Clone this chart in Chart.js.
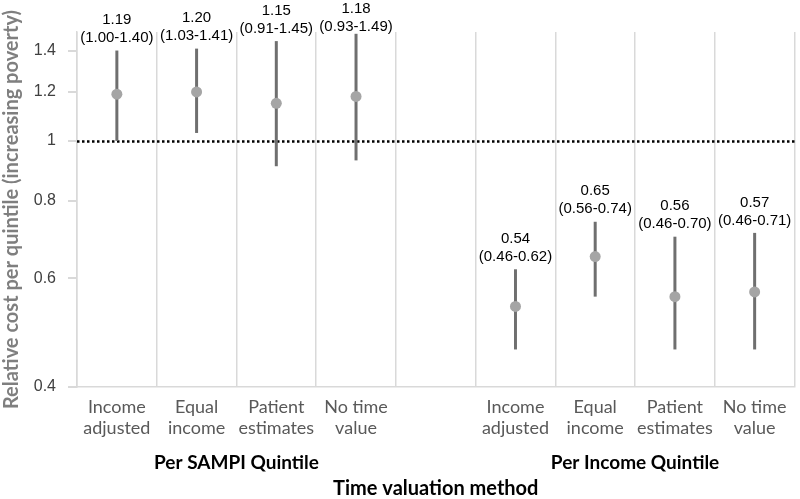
<!DOCTYPE html>
<html>
<head>
<meta charset="utf-8">
<script src="https://cdn.jsdelivr.net/npm/chart.js@4/dist/chart.umd.min.js"></script>
<style>
  html, body { margin: 0; padding: 0; background: #fff; }
  #wrap { width: 800px; height: 499px; }
</style>
</head>
<body>
<div id="wrap"><canvas id="chart" width="800" height="499"></canvas></div>
<script>
// categories (blank slot between the two groups)
const categories = [
    ['Income', 'adjusted'], ['Equal', 'income'], ['Patient', 'estimates'], ['No time', 'value'],
    '',
    ['Income', 'adjusted'], ['Equal', 'income'], ['Patient', 'estimates'], ['No time', 'value']
];
const estimates = [1.19, 1.20, 1.15, 1.18, null, 0.54, 0.65, 0.56, 0.57];
const lowerCI = [1.00, 1.03, 0.91, 0.93, null, 0.46, 0.56, 0.46, 0.46];
const upperCI = [1.40, 1.41, 1.45, 1.49, null, 0.62, 0.74, 0.70, 0.71];
const yTicks = [0.4, 0.6, 0.8, 1, 1.2, 1.4];
const groupLabels = ['Per SAMPI Quintile', 'Per Income Quintile'];
const groupRanges = [[0, 3], [5, 8]];
const refValue = 1;

// error bars + reference line, drawn under the points
const errorBarPlugin = {
    id: 'errorBars',
    beforeDatasetsDraw(chart) {
        const ctx = chart.ctx;
        const x = chart.scales.x;
        const y = chart.scales.y;
        const area = chart.chartArea;
        ctx.save();
        // dotted line at 1
        const ry = Math.round(y.getPixelForValue(refValue)) + 0.5;
        ctx.strokeStyle = '#000';
        ctx.lineWidth = 2.5;
        ctx.setLineDash([2.5, 2.5]);
        ctx.beginPath();
        ctx.moveTo(area.left, ry);
        ctx.lineTo(area.right, ry);
        ctx.stroke();
        ctx.setLineDash([]);
        // whiskers
        ctx.strokeStyle = '#6f6f6f';
        ctx.lineWidth = 3;
        for (let i = 0; i < estimates.length; i++) {
            if (estimates[i] === null) continue;
            const px = x.getPixelForValue(i);
            ctx.beginPath();
            ctx.moveTo(px, y.getPixelForValue(lowerCI[i]));
            ctx.lineTo(px, y.getPixelForValue(upperCI[i]));
            ctx.stroke();
        }
        ctx.restore();
    },
    afterDatasetsDraw(chart) {
        const ctx = chart.ctx;
        const x = chart.scales.x;
        const y = chart.scales.y;
        ctx.save();
        ctx.fillStyle = '#000';
        ctx.font = '15px "Liberation Sans", Arial, sans-serif';
        ctx.textAlign = 'center';
        ctx.textBaseline = 'bottom';
        for (let i = 0; i < estimates.length; i++) {
            if (estimates[i] === null) continue;
            const px = x.getPixelForValue(i);
            const top = y.getPixelForValue(upperCI[i]);
            // keep the label block inside the canvas (like Excel does)
            const rangeBottom = Math.max(top - 5, 34);
            ctx.fillText('(' + lowerCI[i].toFixed(2) + '-' + upperCI[i].toFixed(2) + ')', px, rangeBottom);
            ctx.fillText(estimates[i].toFixed(2), px, rangeBottom - 18);
        }
        ctx.restore();
    },
    afterDraw(chart) {
        const ctx = chart.ctx;
        const x = chart.scales.x;
        const area = chart.chartArea;
        ctx.save();
        ctx.fillStyle = '#000';
        ctx.textAlign = 'center';
        ctx.textBaseline = 'middle';
        ctx.font = 'bold 19px Lato, "Open Sans", sans-serif';
        groupRanges.forEach((r, k) => {
            const cx = (x.getPixelForValue(r[0]) + x.getPixelForValue(r[1])) / 2;
            ctx.fillText(groupLabels[k], cx, 463);
        });
        ctx.font = 'bold 20px Lato, "Open Sans", sans-serif';
        ctx.fillText('Time valuation method', (area.left + area.right) / 2, 489);
        ctx.restore();
    }
};

document.addEventListener('DOMContentLoaded', () => {
    const ctx = document.getElementById('chart').getContext('2d');
    new Chart(ctx, {
        type: 'line',
        data: {
            labels: categories,
            datasets: [{
                data: estimates,
                showLine: false,
                pointRadius: 5.5,
                pointHoverRadius: 5.5,
                pointBackgroundColor: '#a5a5a5',
                pointBorderColor: '#a5a5a5',
                pointBorderWidth: 0
            }]
        },
        options: {
            responsive: false,
            animation: false,
            layout: { padding: { top: 32, right: 3, left: 0, bottom: 0 } },
            plugins: {
                legend: { display: false },
                tooltip: { enabled: false }
            },
            scales: {
                x: {
                    type: 'category',
                    offset: true,
                    grid: { offset: true, color: '#d9d9d9', lineWidth: 1.5, drawTicks: false },
                    border: { color: '#d9d9d9', width: 1.5 },
                    ticks: {
                        color: '#595959',
                        font: { family: 'Lato, "Open Sans", sans-serif', size: 18 },
                        padding: 9,
                        maxRotation: 0,
                        autoSkip: false
                    },
                    afterFit(scale) { scale.height = 112; }
                },
                y: {
                    type: 'logarithmic',
                    min: 0.4,
                    max: 1.5,
                    afterBuildTicks(scale) {
                        scale.ticks = yTicks.map(v => ({ value: v }));
                    },
                    grid: { drawOnChartArea: false, drawTicks: true, tickLength: 9, color: '#d9d9d9', lineWidth: 2 },
                    border: { color: '#d9d9d9', width: 1.5 },
                    ticks: {
                        color: '#404040',
                        font: { family: '"Liberation Sans", Arial, sans-serif', size: 16 },
                        padding: 12,
                        callback: v => (v === 1 ? '1' : Number(v).toFixed(1))
                    },
                    title: {
                        display: true,
                        text: 'Relative cost per quintile (increasing poverty)',
                        color: '#7f7f7f',
                        font: { family: 'Lato, "Open Sans", sans-serif', size: 20, weight: 'bold' },
                        padding: { top: 0, bottom: 2 }
                    },
                    afterFit(scale) { scale.width = 77; }
                }
            }
        },
        plugins: [errorBarPlugin]
    });
});
</script>
</body>
</html>
